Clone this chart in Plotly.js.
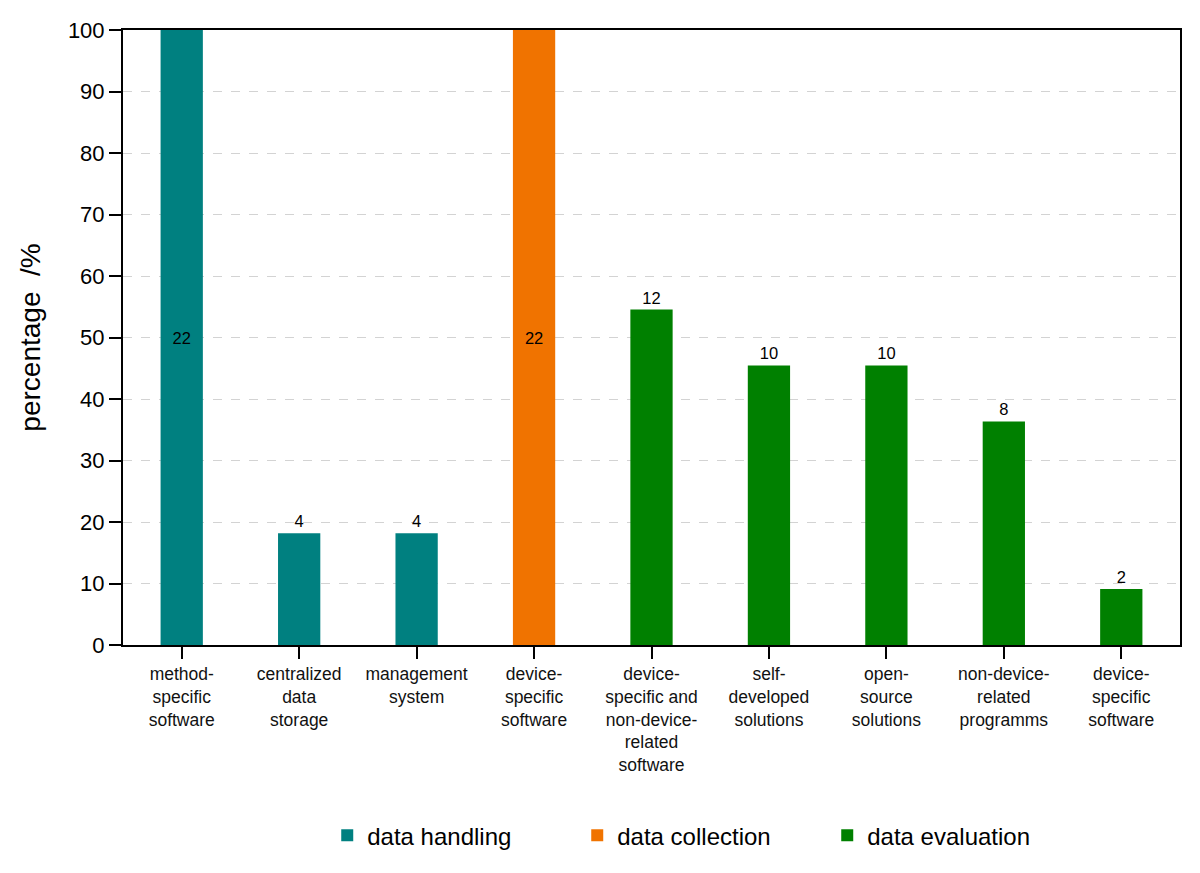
<!DOCTYPE html>
<html>
<head>
<meta charset="utf-8">
<script src="https://cdn.plot.ly/plotly-3.0.1.min.js"></script>
<style>
  body { margin: 0; background: #fff; }
  #chart { width: 1200px; height: 873px; }
</style>
</head>
<body>
<div id="chart"></div>
<script>
// tick labels (two bars share the same name, so x is positional)
const tickLabels = [
  'method-<br>specific<br>software',
  'centralized<br>data<br>storage',
  'management<br>system',
  'device-<br>specific<br>software',
  'device-<br>specific and<br>non-device-<br>related<br>software',
  'self-<br>developed<br>solutions',
  'open-<br>source<br>solutions',
  'non-device-<br>related<br>programms',
  'device-<br>specific<br>software'
];

// data handling
const handlingX = [0, 1, 2];
const handlingPct = [100, 18.18, 18.18];
const handlingCount = [22, 4, 4];

// data collection
const collectionX = [3];
const collectionPct = [100];
const collectionCount = [22];

// data evaluation
const evaluationX = [4, 5, 6, 7, 8];
const evaluationPct = [54.55, 45.45, 45.45, 36.36, 9.09];
const evaluationCount = [12, 10, 10, 8, 2];

const font = 'Liberation Sans, Arial, sans-serif';

var makeTrace = (name, x, y, counts, color) => ({
  type: 'bar',
  name: name,
  x: x,
  y: y,
  text: counts.map(String),
  textposition: y.map(v => v >= 100 ? 'inside' : 'outside'),
  insidetextanchor: 'middle',
  textfont: { family: font, size: 16.5, color: '#000' },
  insidetextfont: { family: font, size: 16.5, color: '#000' },
  outsidetextfont: { family: font, size: 16.5, color: '#000' },
  cliponaxis: false,
  width: 0.36,
  marker: { color: color, line: { width: 0 } },
  hoverinfo: 'skip'
});

const traces = [
  makeTrace('data handling', handlingX, handlingPct, handlingCount, '#008080'),
  makeTrace('data collection', collectionX, collectionPct, collectionCount, '#F07300'),
  makeTrace('data evaluation', evaluationX, evaluationPct, evaluationCount, '#008000')
];

const layout = {
  width: 1200,
  height: 873,
  margin: { l: 123, r: 20, t: 30, b: 228 },
  paper_bgcolor: '#fff',
  plot_bgcolor: '#fff',
  barmode: 'overlay',
  font: { family: font, color: '#000' },
  showlegend: true,
  legend: {
    orientation: 'h',
    x: 0.548,
    xanchor: 'center',
    y: -0.31,
    yanchor: 'middle',
    entrywidth: 205,
    entrywidthmode: 'pixels',
    font: { family: font, size: 24, color: '#000' },
    traceorder: 'normal'
  },
  xaxis: {
    range: [-0.5, 8.5],
    tickmode: 'array',
    tickvals: tickLabels.map((_, i) => i),
    ticktext: tickLabels,
    tickfont: { family: font, size: 17.5, color: '#111' },
    ticks: 'outside',
    ticklen: 12,
    tickwidth: 2,
    tickcolor: '#000',
    showline: true,
    linecolor: '#000',
    linewidth: 2,
    mirror: true,
    showgrid: false,
    zeroline: false,
    fixedrange: true
  },
  yaxis: {
    range: [0, 100],
    dtick: 10,
    tickfont: { family: font, size: 22, color: '#000' },
    ticks: 'outside',
    ticklen: 12,
    tickwidth: 2,
    tickcolor: '#000',
    showline: true,
    linecolor: '#000',
    linewidth: 2,
    mirror: true,
    showgrid: true,
    gridcolor: '#d3d3d3',
    griddash: 'dash',
    gridwidth: 1,
    zeroline: false,
    title: { text: 'percentage\u00a0\u00a0/%', font: { family: font, size: 28, color: '#000' }, standoff: 19 },
    fixedrange: true
  }
};

Plotly.newPlot('chart', traces, layout, { displayModeBar: false, staticPlot: true });
</script>
</body>
</html>
